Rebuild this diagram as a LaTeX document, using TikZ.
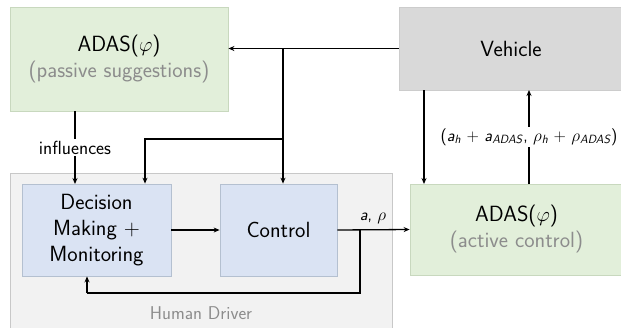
\documentclass[tikz,border=0pt]{standalone}
\usepackage{fontspec}
\usetikzlibrary{arrows.meta}
\definecolor{grfill}{HTML}{E2EFDA}
\definecolor{grdraw}{HTML}{C8D8BE}
\definecolor{blfill}{HTML}{DAE3F3}
\definecolor{bldraw}{HTML}{B4C0D0}
\definecolor{vefill}{HTML}{D9D9D9}
\definecolor{vedraw}{HTML}{CCCCCC}
\definecolor{hdfill}{HTML}{F2F2F2}
\definecolor{hddraw}{HTML}{C8C8C8}
\definecolor{subtext}{HTML}{8C8C8C}
\newcommand\mi[1]{\textit{#1}}
\tikzset{
  box/.style={draw, line width=0.8pt, inner sep=0pt, align=center, font=\sffamily\fontsize{22}{26}\selectfont},
  greenbox/.style={box, fill=grfill, draw=grdraw},
  bluebox/.style={box, fill=blfill, draw=bldraw},
  vehbox/.style={box, fill=vefill, draw=vedraw},
  conn/.style={line width=1.3pt, -{Stealth[length=6pt,width=5pt]}},
  plain/.style={line width=1.3pt},
  lbl/.style={font=\sffamily\fontsize{19}{22}\selectfont, fill=white, inner sep=2pt},
  mlbl/.style={font=\sffamily\fontsize{17}{20}\selectfont, inner sep=1pt},
  sub/.style={text=subtext}
}
\begin{document}
\begin{tikzpicture}[x=1pt,y=-1pt]
\useasboundingbox (0,0) rectangle (621,327);
\fill[white] (0,0) rectangle (621,327);
% Human driver background
\draw[fill=hdfill, draw=hddraw, line width=0.8pt] (10,173) rectangle (392,340);
\node[font=\sffamily\fontsize{18.5}{22}\selectfont, text=subtext] (hd) at (201,313) {Human Driver};
% boxes
\node[greenbox, minimum width=218pt, minimum height=104pt] (pas) at (119,59) {ADAS($\varphi$)\\{\color{subtext}(passive suggestions)}};
\node[vehbox, minimum width=224pt, minimum height=83pt] (veh) at (511,48.5) {Vehicle};
\node[bluebox, minimum width=149pt, minimum height=92pt] (dec) at (96.5,230) {Decision\\Making +\\Monitoring};
\node[bluebox, minimum width=117pt, minimum height=92pt] (ctl) at (278.5,230) {Control};
\node[greenbox, minimum width=213pt, minimum height=91pt] (act) at (516.5,229.5) {ADAS($\varphi$)\\{\color{subtext}(active control)}};
% junctions
\coordinate (j1) at (283,48.5);
\coordinate (j2) at (283,139);
\coordinate (j2b) at (145,139);
\coordinate (j3) at (360,230);
\coordinate (j4) at (360,293);
\coordinate (j5) at (87,293);
% connectors
\draw[conn] (veh.west) -- (pas.east |- veh.west);
\draw[conn] (j1) -- (j1 |- ctl.north);
\draw[conn] (j2) -- (j2b) -- (j2b |- dec.north);
\draw[conn] (75,111) -- node[lbl] (inf) {influences} (75,184);
\draw[conn] (424,90) -- (424,184);
\draw[conn] (529,184) -- node[mlbl, fill=white, inner sep=2pt] (sum) {(\mi{a}\textsubscript{\mi{h}} + \mi{a}\textsubscript{\mi{ADAS}}, $\rho$\textsubscript{\mi{h}} + $\rho$\textsubscript{\mi{ADAS}})} (529,90);
\draw[conn] (dec.east) -- (ctl.west);
\draw[conn] (ctl.east) -- (act.west);
\node[mlbl, anchor=south] (ar) at (373,225) {\mi{a}, $\rho$};
\draw[plain] (j3) -- (j4) -- (j5);
\draw[conn] (j5) -- (j5 |- dec.south);
\end{tikzpicture}
\end{document}
